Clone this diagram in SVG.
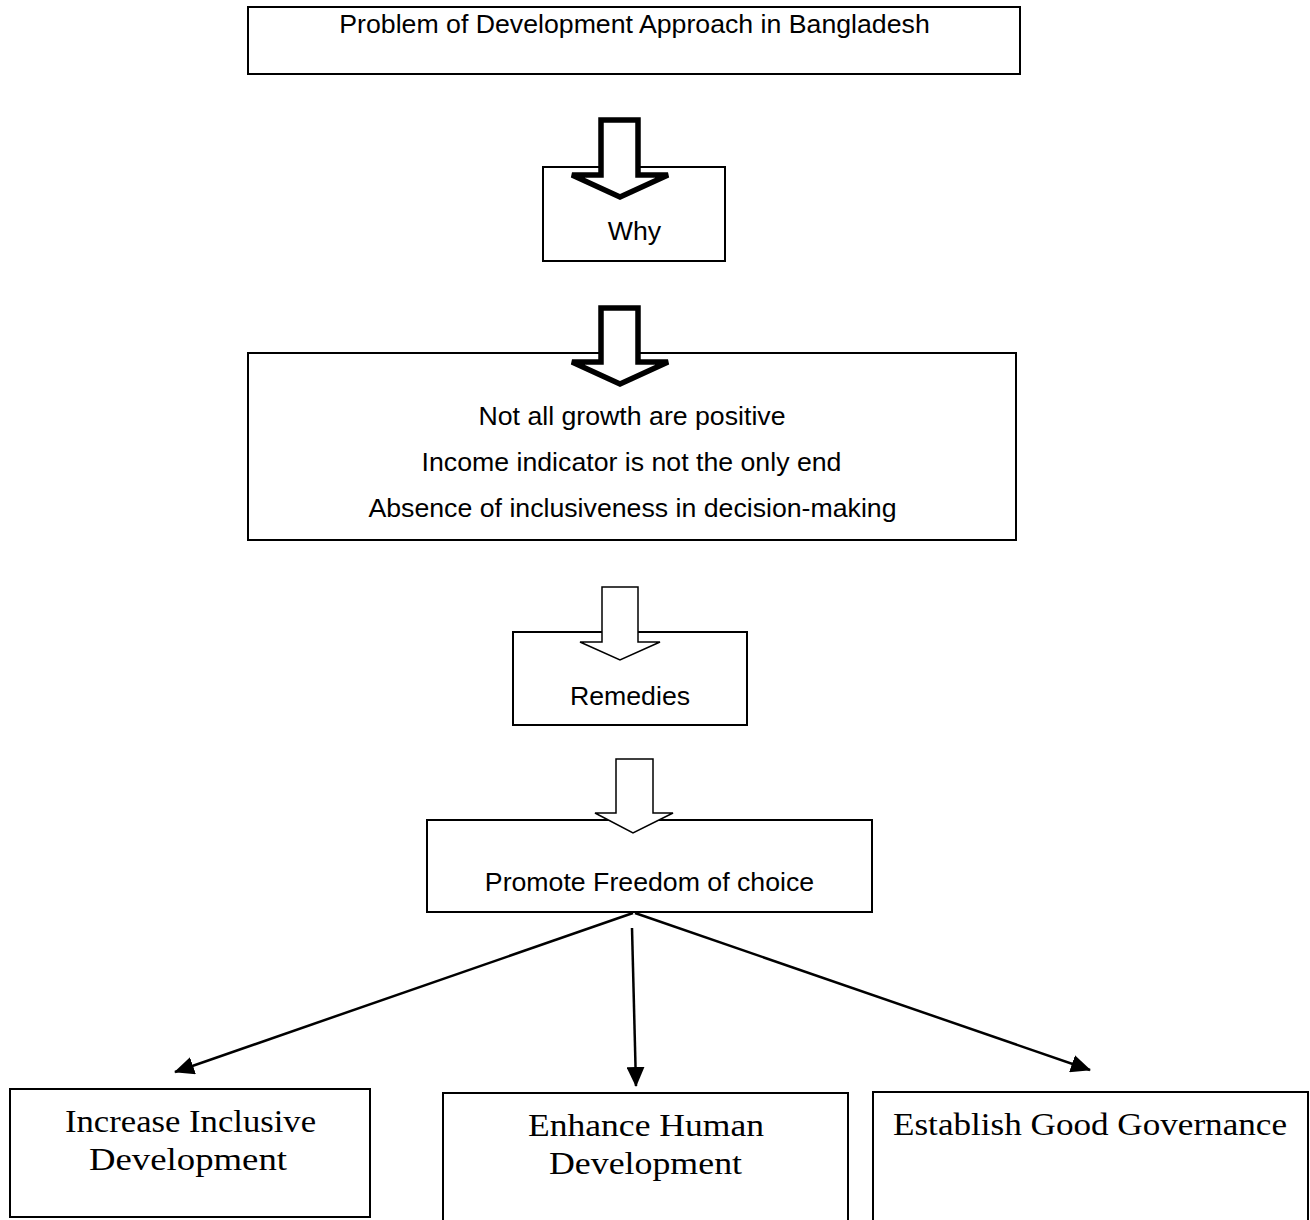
<svg xmlns="http://www.w3.org/2000/svg" width="1310" height="1220" viewBox="0 0 1310 1220">
<style>
.box{fill:#fff;stroke:#000;stroke-width:2}
.sans{font-family:"Liberation Sans",Arial,sans-serif;font-size:26.7px;fill:#000;text-anchor:middle}
.serif{font-family:"Liberation Serif","Times New Roman",serif;font-size:32px;fill:#000;text-anchor:middle}
.thick{fill:#fff;stroke:#000;stroke-width:5.5;stroke-linejoin:miter}
.thin{fill:#fff;stroke:#000;stroke-width:1.5;stroke-linejoin:miter}
.conn{stroke:#000;stroke-width:2.5;fill:none}
</style>
<defs>
<marker id="ah" markerUnits="userSpaceOnUse" markerWidth="22" markerHeight="18" refX="19" refY="9" orient="auto">
<path d="M0,0 L20,9 L0,18 Z" fill="#000"/>
</marker>
</defs>
<rect width="1310" height="1220" fill="#fff"/>
<g id="problem">
<rect class="box" x="248" y="7" width="772" height="67"/>
<text class="sans" x="634.5" y="33">Problem of Development Approach in Bangladesh</text>
</g>
<g id="why">
<rect class="box" x="543" y="167" width="182" height="94"/>
<text class="sans" x="634.5" y="240">Why</text>
</g>
<g id="reasons">
<rect class="box" x="248" y="353" width="768" height="187"/>
<text class="sans" x="632" y="425">Not all growth are positive</text>
<text class="sans" x="631.5" y="471">Income indicator is not the only end</text>
<text class="sans" x="632.5" y="517">Absence of inclusiveness in decision-making</text>
</g>
<g id="remedies">
<rect class="box" x="513" y="632" width="234" height="93"/>
<text class="sans" x="630" y="705">Remedies</text>
</g>
<g id="promote">
<rect class="box" x="427" y="820" width="445" height="92"/>
<text class="sans" x="649.5" y="891">Promote Freedom of choice</text>
</g>
<g id="inclusive">
<rect class="box" x="10" y="1089" width="360" height="128"/>
<text class="serif" x="190.5" y="1132" textLength="251" lengthAdjust="spacingAndGlyphs">Increase Inclusive</text>
<text class="serif" x="188" y="1170" textLength="198" lengthAdjust="spacingAndGlyphs">Development</text>
</g>
<g id="human">
<rect class="box" x="443" y="1093" width="405" height="140"/>
<text class="serif" x="646" y="1136" textLength="236" lengthAdjust="spacingAndGlyphs">Enhance Human</text>
<text class="serif" x="645.5" y="1174" textLength="193" lengthAdjust="spacingAndGlyphs">Development</text>
</g>
<g id="governance">
<rect class="box" x="873" y="1092" width="435" height="140"/>
<text class="serif" x="1090" y="1135" textLength="394" lengthAdjust="spacingAndGlyphs">Establish Good Governance</text>
</g>
<g id="connectors">
<polygon class="thick" points="601,120 638,120 638,175 668,175 620,197 572,175 601,175"/>
<polygon class="thick" points="601,308 638,308 638,362 668,362 620,384 572,362 601,362"/>
<polygon class="thin" points="602,587 638,587 638,642 660,642 620,660 580,642 602,642"/>
<polygon class="thin" points="616,759 653,759 653,813 673,813 633,833 595,813 616,813"/>
<line class="conn" x1="633" y1="913" x2="175" y2="1072" marker-end="url(#ah)"/>
<line class="conn" x1="632" y1="928" x2="636" y2="1086" marker-end="url(#ah)"/>
<line class="conn" x1="635" y1="913" x2="1090" y2="1070" marker-end="url(#ah)"/>
</g>
</svg>
